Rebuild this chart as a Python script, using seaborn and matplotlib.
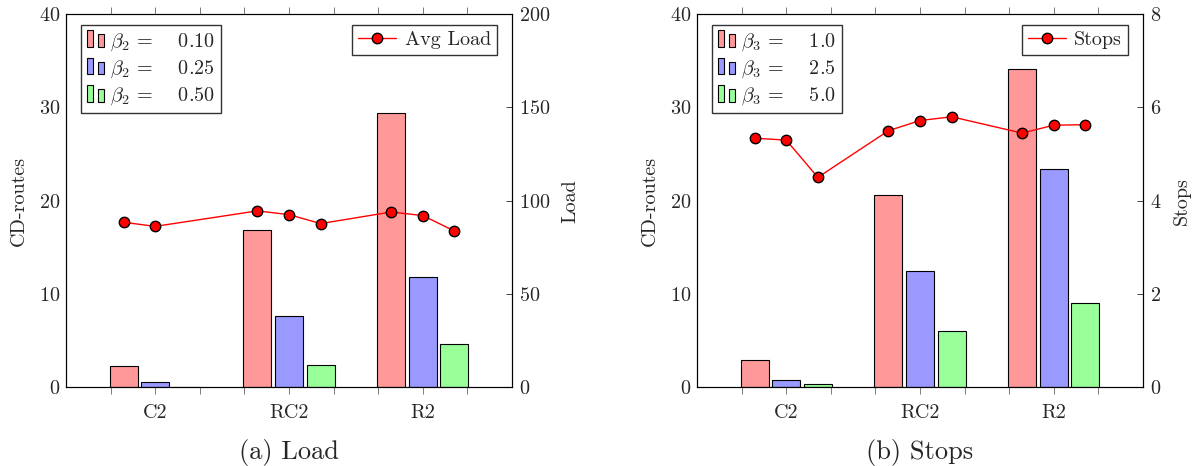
import numpy as np
import pandas as pd
import matplotlib
matplotlib.use("Agg")
import matplotlib.pyplot as plt
import seaborn as sns
from matplotlib.legend_handler import HandlerBase
from matplotlib.patches import Rectangle, Patch

# data
categories = ["C2", "RC2", "R2"]

load_levels = ["0.10", "0.25", "0.50"]
load_routes = {
    "0.10": [2.3, 16.9, 29.4],
    "0.25": [0.5, 7.6, 11.8],
    "0.50": [0.05, 2.4, 4.6],
}
# Avg Load per bar (C2 has no point for the last level)
load_avg = {
    "0.10": [88.4, 94.5, 93.9],
    "0.25": [86.2, 92.5, 92.0],
    "0.50": [np.nan, 87.7, 83.7],
}

stops_levels = ["1.0", "2.5", "5.0"]
stops_routes = {
    "1.0": [2.9, 20.6, 34.1],
    "2.5": [0.7, 12.5, 23.4],
    "5.0": [0.3, 6.0, 9.0],
}
stops_avg = {
    "1.0": [5.34, 5.50, 5.45],
    "2.5": [5.30, 5.72, 5.62],
    "5.0": [4.50, 5.80, 5.63],
}

bar_colors = ["#ff9999", "#9999ff", "#99ff99"]

sns.set_style("ticks")
plt.rcParams["font.family"] = ["cmr10", "DejaVu Serif"]
plt.rcParams["mathtext.fontset"] = "cm"
plt.rcParams["axes.formatter.use_mathtext"] = True
plt.rcParams["axes.unicode_minus"] = False

FS = 14.5


class TwoBarHandler(HandlerBase):
    """pgfplots style ybar legend image: two small bars"""
    def create_artists(self, legend, orig_handle, xdescent, ydescent,
                       width, height, fontsize, trans):
        fc = orig_handle.get_facecolor()
        bw = width * 0.34
        r1 = Rectangle((-xdescent, -ydescent - 1), bw, height * 1.3,
                       facecolor=fc, edgecolor="black", linewidth=0.8, transform=trans)
        r2 = Rectangle((-xdescent + width * 0.6, -ydescent - 1), bw, height * 1.0,
                       facecolor=fc, edgecolor="black", linewidth=0.8, transform=trans)
        return [r1, r2]


def make_panel(ax, levels, routes, avg, beta, line_label, rmax, rticks, right_label, caption):
    rows = []
    for lev in levels:
        for cat, v in zip(categories, routes[lev]):
            rows.append({"cat": cat, "level": lev, "routes": v})
    df = pd.DataFrame(rows)

    sns.barplot(data=df, x="cat", y="routes", hue="level", order=categories,
                hue_order=levels, palette=bar_colors, saturation=1, width=0.71,
                gap=0.115, edgecolor="black", linewidth=0.8, legend=False, ax=ax)

    # line points sit over the bars
    slot = 0.71 / 3
    xs, ys = [], []
    for ci in range(len(categories)):
        for li, lev in enumerate(levels):
            val = avg[lev][ci]
            if not np.isnan(val):
                xs.append(ci + (li - 1) * slot)
                ys.append(val)

    ax.set_xlim(-2 / 3, 2 + 2 / 3)
    ax.set_ylim(0, 40)
    ax.set_yticks([0, 10, 20, 30, 40])
    ax.set_xticks(range(len(categories)))
    ax.set_xticklabels(categories)
    ax.set_xticks([c + d for c in range(3) for d in (-1 / 3, 1 / 3)], minor=True)
    ax.tick_params(axis="x", which="both", direction="out", length=5, width=0.6,
                   color="#666666", top=True, bottom=True, labelsize=FS, pad=7)
    ax.tick_params(axis="y", length=0, labelsize=FS, pad=4)
    ax.set_xlabel("")
    ax.set_ylabel("CD-routes", fontsize=FS, labelpad=8)
    for s in ax.spines.values():
        s.set_visible(True)
        s.set_linewidth(0.8)
        s.set_color("black")

    ax2 = ax.twinx()
    sns.lineplot(x=xs, y=ys, color="red", linewidth=1.0, marker="o", markersize=7.5,
                 markerfacecolor="red", markeredgecolor="black", markeredgewidth=1.0,
                 ax=ax2, label=line_label)
    ax2.set_ylim(0, rmax)
    ax2.set_yticks(rticks)
    ax2.tick_params(axis="y", direction="in", length=4, width=0.6, labelsize=FS, pad=5)
    ax2.set_ylabel(right_label, fontsize=FS, labelpad=8)
    ax2.set_xlim(-2 / 3, 2 + 2 / 3)
    for s in ax2.spines.values():
        s.set_linewidth(0.8)
        s.set_color("black")

    handles = [Patch(facecolor=c) for c in bar_colors]
    labels = [r"$\beta_{%d}\,=\quad\;$%s" % (beta, lev) for lev in levels]
    ax.legend(handles, labels, handler_map={Patch: TwoBarHandler()},
              loc="upper left", bbox_to_anchor=(0.034, 0.971), borderaxespad=0,
              fancybox=False, framealpha=1, edgecolor="#333333", fontsize=FS,
              handlelength=0.9, handleheight=0.6, handletextpad=0.25,
              labelspacing=0.28, borderpad=0.3)
    ax2.legend(loc="upper right", bbox_to_anchor=(0.966, 0.971), borderaxespad=0,
               fancybox=False, framealpha=1, edgecolor="#333333", fontsize=FS,
               handlelength=1.9, handletextpad=0.4, borderpad=0.3)

    fig = ax.figure
    pos = ax.get_position()
    fig.text(pos.x0 + pos.width / 2, 0.030, caption, ha="center", va="center", fontsize=19)


fig = plt.figure(figsize=(11.94, 4.66), dpi=100)
ax_a = fig.add_axes([66 / 1194, 1 - 387 / 466, 446 / 1194, (387 - 14.3) / 466])
ax_b = fig.add_axes([697 / 1194, 1 - 387 / 466, 446 / 1194, (387 - 14.3) / 466])

make_panel(ax_a, load_levels, load_routes, load_avg, 2, "Avg Load", 200,
           [0, 50, 100, 150, 200], "Load", "(a) Load")
make_panel(ax_b, stops_levels, stops_routes, stops_avg, 3, "Stops", 8,
           [0, 2, 4, 6, 8], "Stops", "(b) Stops")

fig.savefig("out.png", dpi=100)
